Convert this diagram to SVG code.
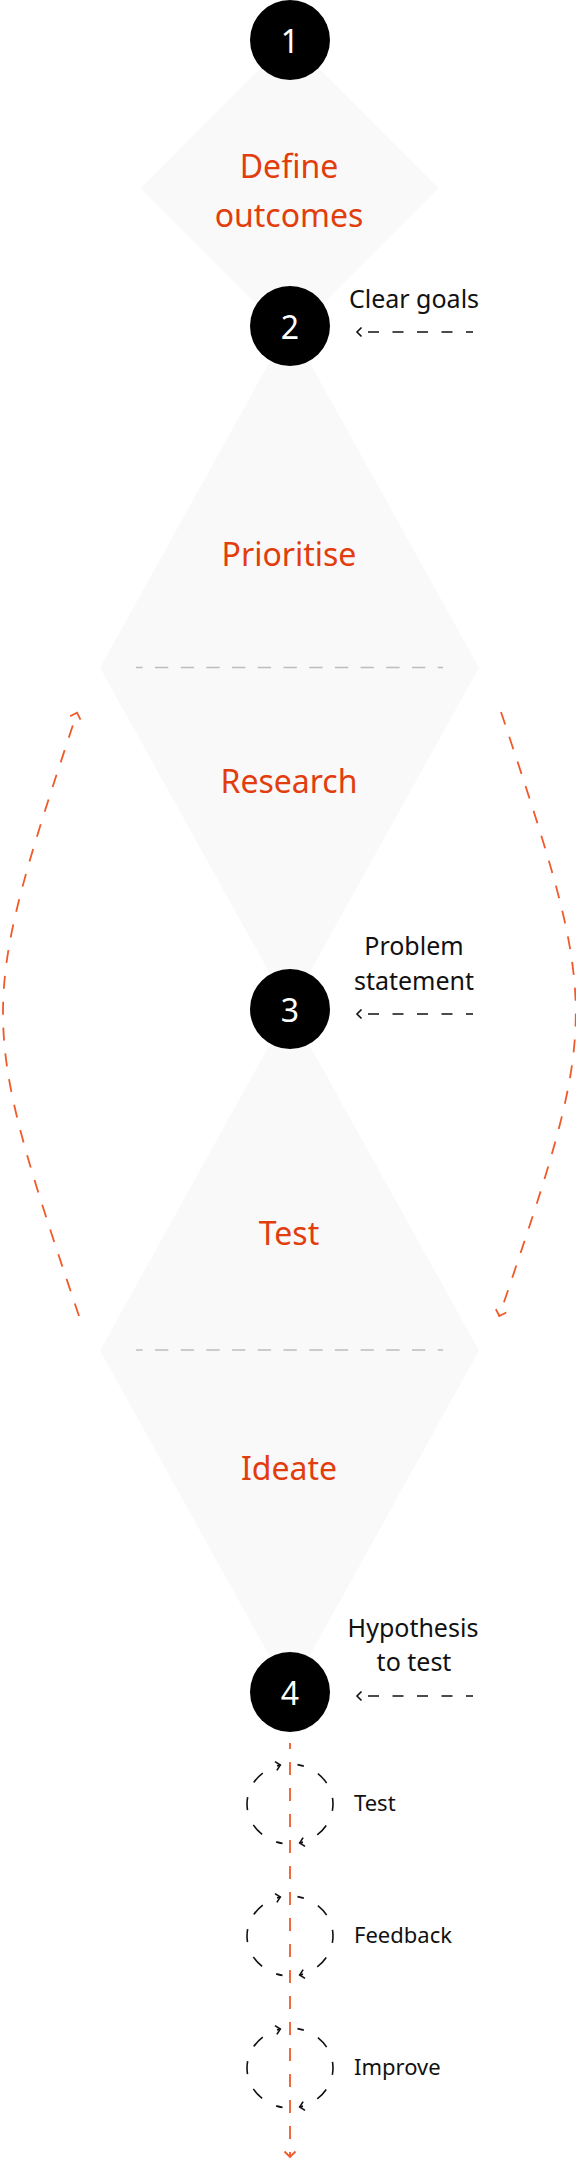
<svg xmlns="http://www.w3.org/2000/svg" width="576" height="2158" viewBox="0 0 576 2158">
<style>
  .shape{fill:#f9f9f9;stroke:none}
  .num{font-family:"Noto Sans","Open Sans",sans-serif;font-size:32px;fill:#ffffff;text-anchor:middle}
  .stage{font-family:"Noto Sans","Open Sans",sans-serif;font-size:32px;fill:#e23d0d;text-anchor:middle}
  .note{font-family:"Noto Sans","Open Sans",sans-serif;font-size:25px;fill:#111111;text-anchor:middle}
  .step{font-family:"Noto Sans","Open Sans",sans-serif;font-size:22px;fill:#111111}
  .dot{fill:#000000}
  .divider{fill:none;stroke:#bdbdbd;stroke-width:1.5;stroke-dasharray:13.3 12.4;stroke-dashoffset:6.7}
  .red{fill:none;stroke:#f05a2a;stroke-width:1.8;stroke-dasharray:13 13}
  .inarrow{fill:none;stroke:#111111;stroke-width:1.6;stroke-dasharray:11 13.5;stroke-dashoffset:4}
  .cycle{fill:none;stroke:#111111;stroke-width:1.6;stroke-dasharray:13 16;stroke-dashoffset:6.5}
</style>
<defs>
  <marker id="redHead" markerUnits="userSpaceOnUse" viewBox="-10 -10 20 20" refX="0" refY="0" markerWidth="20" markerHeight="20" orient="auto">
    <path d="M-5.5,-5.5 L0,0 L-5.5,5.5" fill="none" stroke="#f05a2a" stroke-width="1.8"/>
  </marker>
  <marker id="blackHead" markerUnits="userSpaceOnUse" viewBox="-10 -10 20 20" refX="0" refY="0" markerWidth="20" markerHeight="20" orient="auto">
    <path d="M-4.5,-4.5 L0,0 L-4.5,4.5" fill="none" stroke="#111111" stroke-width="1.6"/>
  </marker>
</defs>

<g id="stage-define">
  <polygon class="shape" points="289.5,39 438.7,188.3 289.5,337.5 140.3,188.3"/>
  <text class="stage" x="289" y="178">Define</text>
  <text class="stage" x="289" y="227">outcomes</text>
</g>

<g id="stage-prioritise-research">
  <polygon class="shape" points="289.5,326 479,667.7 289.5,1009 100,667.7"/>
  <line class="divider" x1="136" y1="667.5" x2="443" y2="667.5"/>
  <text class="stage" x="289" y="566">Prioritise</text>
  <text class="stage" x="289" y="793">Research</text>
</g>

<g id="stage-test-ideate">
  <polygon class="shape" points="289.5,1009 479,1350.5 289.5,1692 100,1350.5"/>
  <line class="divider" x1="136" y1="1350" x2="443" y2="1350"/>
  <text class="stage" x="289" y="1245">Test</text>
  <text class="stage" x="289" y="1480">Ideate</text>
</g>

<g id="connectors">
  <path class="red" d="M79,1316 C-22,1016 -22,1012 77,712.7" marker-end="url(#redHead)"/>
  <path class="red" d="M501,712 C601,1012 601,1016 499.3,1316" marker-end="url(#redHead)"/>
  <path class="red" style="stroke-dashoffset:7" d="M290,1743 V2157" marker-end="url(#redHead)"/>
  <path class="inarrow" d="M473,332 H357" marker-end="url(#blackHead)"/>
  <path class="inarrow" d="M473,1014 H357" marker-end="url(#blackHead)"/>
  <path class="inarrow" d="M473,1696 H357" marker-end="url(#blackHead)"/>
</g>

<g id="node-1">
  <circle class="dot" cx="290" cy="40" r="40"/>
  <text class="num" x="290" y="52.5">1</text>
</g>

<g id="node-2">
  <circle class="dot" cx="290" cy="326" r="40"/>
  <text class="num" x="290" y="338.5">2</text>
  <text class="note" x="414" y="308">Clear goals</text>
</g>

<g id="node-3">
  <circle class="dot" cx="290" cy="1009" r="40"/>
  <text class="num" x="290" y="1021.5">3</text>
  <text class="note" x="414" y="955">Problem</text>
  <text class="note" x="414" y="990">statement</text>
</g>

<g id="node-4">
  <circle class="dot" cx="290" cy="1692" r="40"/>
  <text class="num" x="290" y="1704.5">4</text>
  <text class="note" x="413" y="1636.5">Hypothesis</text>
  <text class="note" x="414" y="1671">to test</text>
</g>

<g id="cycle-test">
  <path class="cycle" d="M282.53,1843.39 A43,40 0 0 1 280.33,1765.03" marker-end="url(#blackHead)"/>
  <path class="cycle" d="M297.47,1764.61 A43,40 0 0 1 299.67,1842.97" marker-end="url(#blackHead)"/>
  <text class="step" x="354" y="1810.5">Test</text>
</g>

<g id="cycle-feedback">
  <path class="cycle" d="M282.53,1975.39 A43,40 0 0 1 280.33,1897.03" marker-end="url(#blackHead)"/>
  <path class="cycle" d="M297.47,1896.61 A43,40 0 0 1 299.67,1974.97" marker-end="url(#blackHead)"/>
  <text class="step" x="354" y="1942.5">Feedback</text>
</g>

<g id="cycle-improve">
  <path class="cycle" d="M282.53,2107.39 A43,40 0 0 1 280.33,2029.03" marker-end="url(#blackHead)"/>
  <path class="cycle" d="M297.47,2028.61 A43,40 0 0 1 299.67,2106.97" marker-end="url(#blackHead)"/>
  <text class="step" x="354" y="2074.5">Improve</text>
</g>
</svg>
